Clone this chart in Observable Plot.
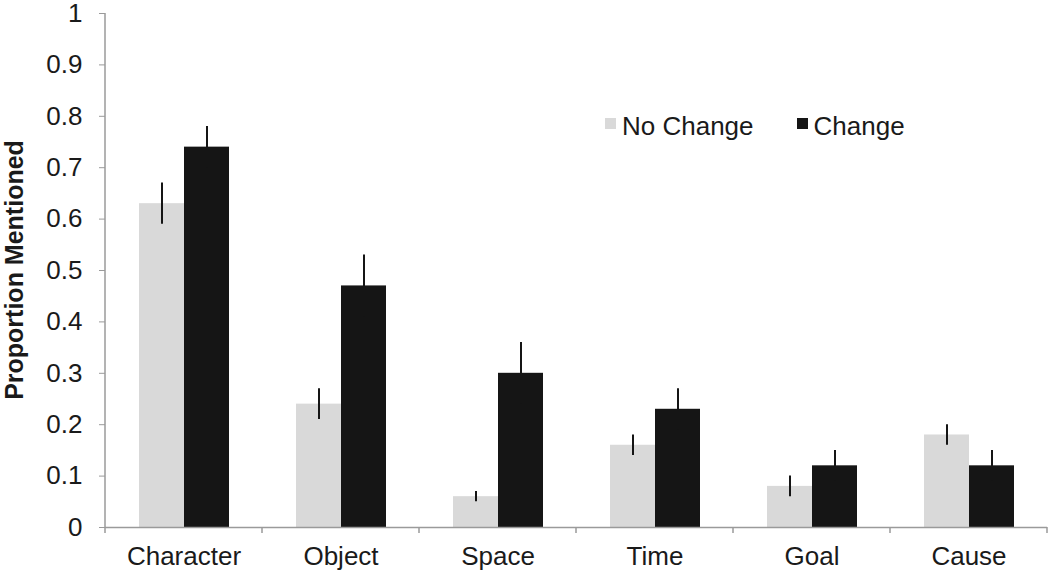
<!DOCTYPE html>
<html>
<head>
<meta charset="utf-8">
<script src="https://cdn.jsdelivr.net/npm/d3@7"></script>
<script src="https://cdn.jsdelivr.net/npm/@observablehq/plot@0.6"></script>
<style>
  html, body { margin: 0; padding: 0; background: #fff; }
  #wrap { position: relative; width: 1050px; height: 572px; font-family: "Liberation Sans", Arial, Helvetica, sans-serif; }
  #legend { position: absolute; left: 605px; top: 111px; display: flex; align-items: center; font-size: 26px; color: #1a1a1a; }
  .item { display: flex; align-items: center; margin-right: 43px; }
  .sw { width: 11px; height: 11px; margin-right: 6px; margin-top: -6px; }
</style>
</head>
<body>
<div id="wrap"></div>
<script>
const categories = ["Character", "Object", "Space", "Time", "Goal", "Cause"];
const series = ["No Change", "Change"];
const seriesColors = ["#d9d9d9", "#151515"];
const noChange    = [0.63, 0.24, 0.06, 0.16, 0.08, 0.18];
const noChangeErr = [0.04, 0.03, 0.01, 0.02, 0.02, 0.02];
const change      = [0.74, 0.47, 0.30, 0.23, 0.12, 0.12];
const changeErr   = [0.04, 0.06, 0.06, 0.04, 0.03, 0.03];
const yTicks = [0, 0.1, 0.2, 0.3, 0.4, 0.5, 0.6, 0.7, 0.8, 0.9, 1];
const yLabel = "Proportion Mentioned";

const data = [];
categories.forEach((c, i) => {
  data.push({category: c, series: series[0], value: noChange[i], err: noChangeErr[i]});
  data.push({category: c, series: series[1], value: change[i], err: changeErr[i]});
});

const axisColor = "#9a9a9a";
const textColor = "#1a1a1a";

const plot = Plot.plot({
  width: 1050,
  height: 572,
  marginLeft: 103,
  marginRight: 2,
  marginTop: 13,
  marginBottom: 45,
  style: {fontFamily: "'Liberation Sans', Arial, Helvetica, sans-serif", fontSize: "26px", color: textColor, background: "white", overflow: "visible"},
  fx: {domain: categories, padding: 0, label: null},
  x: {domain: series, paddingInner: 0, paddingOuter: 0.725, axis: null},
  y: {domain: [0, 1], label: null},
  color: {domain: series, range: seriesColors},
  marks: [
    Plot.barY(data, {fx: "category", x: "series", y: "value", fill: "series"}),
    Plot.ruleX(data, {fx: "category", x: "series", y1: d => d.value - d.err, y2: d => d.value + d.err, stroke: "#151515", strokeWidth: 2}),
    Plot.ruleY([0], {stroke: axisColor, strokeWidth: 1.5}),
    Plot.axisY({ticks: yTicks, tickSize: 6, tickPadding: 17, tickFormat: d => String(+d.toFixed(1)), stroke: axisColor, fill: textColor, label: null}),
    Plot.axisFx({anchor: "bottom", tickSize: 0, tickPadding: 19, label: null, fill: textColor})
  ]
});

document.getElementById("wrap").appendChild(plot);

// y-axis line, category boundary ticks and y label, positioned from Plot's scales
const fx = plot.scale("fx");
const y = plot.scale("y");
const svg = d3.select(plot);
const left = fx.apply(categories[0]);
const edges = categories.map(c => fx.apply(c)).concat([fx.apply(categories[categories.length - 1]) + fx.bandwidth]);
const y0 = y.apply(0), y1 = y.apply(1);
const g = svg.append("g").attr("stroke", axisColor).attr("stroke-width", 1.5);
g.append("line").attr("x1", left).attr("x2", left).attr("y1", y1).attr("y2", y0);
edges.forEach(e => g.append("line").attr("x1", e).attr("x2", e).attr("y1", y0).attr("y2", y0 + 6));
svg.append("text")
  .attr("transform", `translate(23,${(y0 + y1) / 2}) rotate(-90)`)
  .attr("text-anchor", "middle")
  .attr("font-weight", "bold")
  .attr("font-size", 25)
  .attr("fill", textColor)
  .text(yLabel);

// legend
const legend = document.createElement("div");
legend.id = "legend";
series.forEach((s, i) => {
  const item = document.createElement("div");
  item.className = "item";
  const sw = document.createElement("div");
  sw.className = "sw";
  sw.style.background = seriesColors[i];
  const t = document.createElement("span");
  t.textContent = s;
  item.appendChild(sw);
  item.appendChild(t);
  legend.appendChild(item);
});
document.getElementById("wrap").appendChild(legend);
</script>
</body>
</html>
